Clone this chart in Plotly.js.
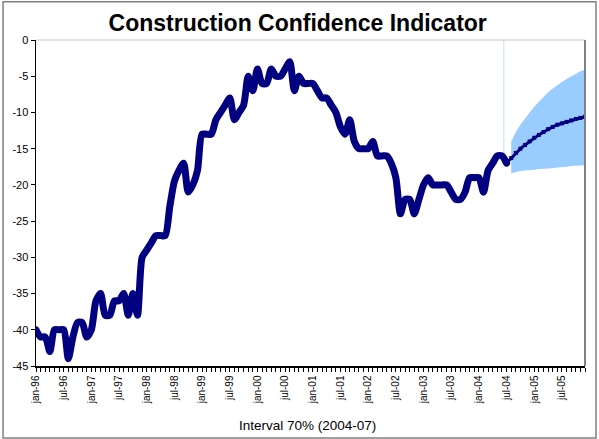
<!DOCTYPE html>
<html>
<head>
<meta charset="utf-8">
<script src="https://cdn.plot.ly/plotly-3.0.1.min.js"></script>
<style>
  html, body { margin: 0; padding: 0; background: #fff; }
  #chart { width: 599px; height: 439px; }
  .scatterlayer path.js-line { stroke-linejoin: round; stroke-linecap: round; }
</style>
</head>
<body>
<div id="chart"></div>
<script>
// Monthly indicator, jan-96 .. jul-04 (one value per month)
const actual = [
  -40, -41, -41, -43, -40, -40, -40, -44, -41, -39, -39, -41,   // 1996
  -40, -36, -35, -38, -38, -36, -36, -35, -38, -35, -38, -30,   // 1997
  -29, -28, -27, -27, -27, -23, -19.5, -18, -17, -21, -20, -18, // 1998
  -13, -13, -13, -11, -10, -9, -8, -11, -10, -9, -5, -7,        // 1999
  -4, -6, -6, -4, -5, -5, -4, -3, -7, -5, -6, -6,               // 2000
  -6, -7, -8, -8, -9, -10, -12, -13, -11, -14, -15, -15,        // 2001
  -15, -14, -16, -16, -16, -17, -19, -24, -22, -22, -24, -22,   // 2002
  -20, -19, -20, -20, -20, -20, -21, -22, -22, -21, -19, -19,   // 2003
  -19, -21, -18, -17, -16, -16, -17                             // 2004 (to jul)
];
// Forecast centre line, jul-04 .. dec-05
const forecast = [-17, -16.3, -15.6, -15.0, -14.5, -14.0, -13.5, -13.1, -12.7,
                  -12.3, -12.0, -11.7, -11.5, -11.3, -11.1, -10.9, -10.75, -10.6];
// 70% interval, aug-04 .. dec-05
const bandUpper = [-14.0, -12.7, -11.7, -10.8, -10.0, -9.2, -8.5, -7.9, -7.2,
                   -6.7, -6.2, -5.8, -5.4, -5.0, -4.6, -4.3, -4.1];
const bandLower = [-18.4, -18.2, -18.1, -18.0, -18.0, -17.9, -17.8, -17.8, -17.7,
                   -17.7, -17.6, -17.6, -17.5, -17.4, -17.4, -17.3, -17.3];
const tickLabels = ['jan-96','jul-96','jan-97','jul-97','jan-98','jul-98','jan-99','jul-99',
                    'jan-00','jul-00','jan-01','jul-01','jan-02','jul-02','jan-03','jul-03',
                    'jan-04','jul-04','jan-05','jul-05'];
const yTicks = [0, -5, -10, -15, -20, -25, -30, -35, -40, -45];

const xActual = actual.map((_, i) => i);
const fStart = actual.length - 1;
const xForecast = forecast.map((_, i) => fStart + i);
const xBand = bandUpper.map((_, i) => fStart + 1 + i);
const tickVals = tickLabels.map((_, i) => i * 6);
const lastX = xForecast[xForecast.length - 1];

const navy = '#000080';
const traces = [
  { x: xBand, y: bandLower, type: 'scatter', mode: 'lines',
    line: { width: 0, color: '#99CCFF' }, hoverinfo: 'skip', showlegend: false },
  { x: xBand, y: bandUpper, type: 'scatter', mode: 'lines', fill: 'tonexty',
    fillcolor: '#99CCFF', line: { width: 0, color: '#99CCFF' }, showlegend: false },
  { x: xForecast, y: forecast, type: 'scatter', mode: 'lines+markers',
    line: { color: navy, width: 3 }, marker: { symbol: 'square', size: 4, color: navy },
    showlegend: false },
  { x: xActual, y: actual, type: 'scatter', mode: 'lines',
    line: { color: navy, width: 7, shape: 'spline', smoothing: 0.7 }, showlegend: false }
];

const F = 'Liberation Sans, Arial, sans-serif';
const layout = {
  width: 599, height: 439,
  margin: { l: 36, r: 14, t: 40, b: 73 },
  paper_bgcolor: '#fff', plot_bgcolor: '#fff',
  showlegend: false,
  title: { text: '<b>Construction Confidence Indicator</b>', font: { family: F, size: 23, color: '#000' },
           x: 0.497, xref: 'container', xanchor: 'center', y: 0.948, yref: 'container', yanchor: 'middle' },
  xaxis: {
    range: [0, lastX], tickmode: 'array', tickvals: tickVals, ticktext: tickLabels,
    tickangle: -90, tickfont: { family: F, size: 10, color: '#000' },
    ticks: 'outside', ticklen: 4, tickcolor: '#000', tickwidth: 1,
    minor: { dtick: 1, tick0: 0, ticks: 'outside', ticklen: 4, tickcolor: '#000', tickwidth: 1, showgrid: false },
    showline: true, linecolor: '#000', linewidth: 1.5, showgrid: false, zeroline: false, fixedrange: true
  },
  yaxis: {
    range: [-45, 0], tickmode: 'array', tickvals: yTicks, ticktext: yTicks.map(String),
    tickfont: { family: F, size: 11, color: '#000' },
    ticks: 'outside', ticklen: 4, tickcolor: '#000',
    showline: true, linecolor: '#000', linewidth: 1.5, showgrid: false, zeroline: false, fixedrange: true
  },
  shapes: [
    { type: 'line', xref: 'paper', yref: 'paper', x0: 0, x1: 1, y0: 1, y1: 1,
      line: { color: '#c8c8c8', width: 1 } },
    { type: 'line', xref: 'paper', yref: 'paper', x0: 1, x1: 1, y0: 0, y1: 1,
      line: { color: '#808080', width: 2 } },
    { type: 'line', xref: 'x', yref: 'y', x0: fStart - 0.6, x1: fStart - 0.6, y0: 0, y1: actual[fStart - 1],
      line: { color: '#c4dcff', width: 1 }, layer: 'below' },
    { type: 'rect', xref: 'paper', yref: 'paper', x0: -0.06, x1: 1.02, y0: -0.221, y1: 1.117,
      line: { color: '#808080', width: 1.5 } }
  ],
  annotations: [
    { text: 'Interval 70% (2004-07)', xref: 'paper', yref: 'paper', x: 0.494, y: -0.181,
      xanchor: 'center', yanchor: 'middle', showarrow: false,
      font: { family: F, size: 13.5, color: '#000' } }
  ]
};

Plotly.newPlot('chart', traces, layout, { displayModeBar: false, staticPlot: true });
</script>
</body>
</html>
